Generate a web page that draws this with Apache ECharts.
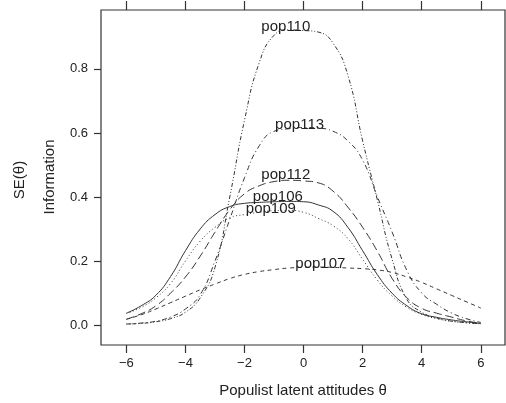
<!DOCTYPE html>
<html>
<head>
<meta charset="utf-8">
<script src="https://cdn.jsdelivr.net/npm/echarts@6/dist/echarts.min.js"></script>
<style>
html,body{margin:0;padding:0;background:#fff;}
#chart{width:506px;height:403px;}
</style>
</head>
<body>
<div id="chart"></div>
<script>
// theta grid
const theta = [-6,-5.5,-5,-4.5,-4,-3.5,-3,-2.5,-2,-1.5,-1,-0.5,0,0.5,1,1.5,2,2.5,3,3.5,4,4.5,5,5.5,6];

const pop106 = [0.037,0.060,0.093,0.152,0.232,0.300,0.345,0.370,0.380,0.383,0.385,0.386,0.385,0.375,0.355,0.305,0.232,0.157,0.099,0.060,0.035,0.024,0.016,0.010,0.005];
const pop109 = [0.036,0.055,0.085,0.130,0.200,0.262,0.305,0.335,0.345,0.352,0.357,0.358,0.352,0.333,0.310,0.270,0.205,0.140,0.090,0.055,0.033,0.020,0.012,0.007,0.004];
const pop112 = [0.018,0.035,0.060,0.100,0.150,0.215,0.290,0.360,0.410,0.435,0.448,0.452,0.450,0.444,0.418,0.368,0.305,0.230,0.145,0.085,0.052,0.037,0.025,0.013,0.005];
const pop110 = [0.003,0.005,0.010,0.020,0.040,0.085,0.180,0.400,0.640,0.820,0.905,0.922,0.920,0.915,0.880,0.780,0.575,0.390,0.205,0.080,0.040,0.022,0.012,0.007,0.004];
const pop113 = [0.003,0.006,0.012,0.025,0.050,0.095,0.200,0.330,0.460,0.560,0.605,0.613,0.617,0.615,0.605,0.575,0.515,0.400,0.290,0.170,0.100,0.065,0.038,0.020,0.008];
const pop107 = [0.018,0.032,0.050,0.070,0.090,0.110,0.128,0.145,0.158,0.167,0.173,0.178,0.180,0.181,0.180,0.178,0.176,0.172,0.164,0.150,0.133,0.113,0.093,0.073,0.053];

const seriesNames = ['pop106','pop109','pop112','pop110','pop113','pop107'];
const seriesValues = [pop106, pop109, pop112, pop110, pop113, pop107];

const xTicks = [-6,-4,-2,0,2,4,6];
const yTicks = [0,0.2,0.4,0.6,0.8];

const xTitle = 'Populist latent attitudes \u03b8';
const yTitle1 = 'SE(\u03b8)';
const yTitle2 = 'Information';

// styles (not data)
const dashStyles = {
  pop106: 'solid',
  pop109: [1,2.5],
  pop112: [8,4],
  pop110: [1,2,1,2,4,2],
  pop113: [5,3,1,3],
  pop107: [4,3.5]
};
const labelOffsets = {
  pop106: [-11,-5],
  pop109: [-18,-2],
  pop112: [-3,-5],
  pop110: [-3,-3],
  pop113: [-4,-3],
  pop107: [2,-3]
};

const FONT = 'Liberation Sans, Arial, Helvetica, sans-serif';
const INK = '#222';

const chart = echarts.init(document.getElementById('chart'), null, {renderer:'canvas'});

const series = seriesNames.map((name, i) => ({
  name: name,
  type: 'line',
  data: theta.map((t, j) => [t, seriesValues[i][j]]),
  showSymbol: false,
  smooth: true,
  animation: false,
  lineStyle: {color: '#333', width: 1, type: dashStyles[name]},
  markPoint: {
    silent: true,
    symbol: 'circle',
    symbolSize: 0.1,
    itemStyle: {color: 'rgba(0,0,0,0)'},
    data: [{type: 'max'}],
    label: {
      show: true,
      position: 'inside',
      formatter: name,
      offset: labelOffsets[name],
      color: INK,
      fontSize: 15,
      fontFamily: FONT
    },
    animation: false
  }
}));

const option = {
  backgroundColor: '#fff',
  animation: false,
  grid: {left: 101, top: 10, width: 404, height: 335, show: true, borderColor: '#333', borderWidth: 1.2, backgroundColor: 'transparent'},
  xAxis: [{
    type: 'value',
    position: 'bottom',
    min: -6.86, max: 6.82,
    axisLine: {show: false, onZero: false},
    splitLine: {show: false},
    axisTick: {show: true, customValues: xTicks, length: 8, lineStyle: {color: '#333', width: 1.2}},
    axisLabel: {customValues: xTicks, margin: 12, fontSize: 13, color: INK, fontFamily: FONT,
      formatter: v => v < 0 ? '\u2212' + Math.abs(v) : String(v)},
    name: xTitle,
    nameLocation: 'middle',
    nameGap: 38,
    nameTextStyle: {fontSize: 15, color: INK, fontFamily: FONT}
  }, {
    type: 'value',
    position: 'top',
    min: -6.86, max: 6.82,
    axisLine: {show: false, onZero: false},
    splitLine: {show: false},
    axisTick: {show: true, customValues: xTicks, length: 9, lineStyle: {color: '#333', width: 1.2}},
    axisLabel: {show: false}
  }],
  yAxis: {
    type: 'value',
    min: -0.0625, max: 0.984,
    axisLine: {show: false, onZero: false},
    splitLine: {show: false},
    axisTick: {show: true, customValues: yTicks, length: 7, lineStyle: {color: '#333', width: 1.2}},
    axisLabel: {customValues: yTicks, margin: 13, fontSize: 13, color: INK, fontFamily: FONT,
      formatter: v => v.toFixed(1)}
  },
  graphic: [
    {type: 'text', x: 20, y: 180, rotation: Math.PI/2,
      style: {text: yTitle1, textAlign: 'center', textVerticalAlign: 'middle', fontSize: 15, fontFamily: FONT, fill: INK}},
    {type: 'text', x: 50, y: 177, rotation: Math.PI/2,
      style: {text: yTitle2, textAlign: 'center', textVerticalAlign: 'middle', fontSize: 15, fontFamily: FONT, fill: INK}}
  ],
  series: series
};

chart.setOption(option);
</script>
</body>
</html>
